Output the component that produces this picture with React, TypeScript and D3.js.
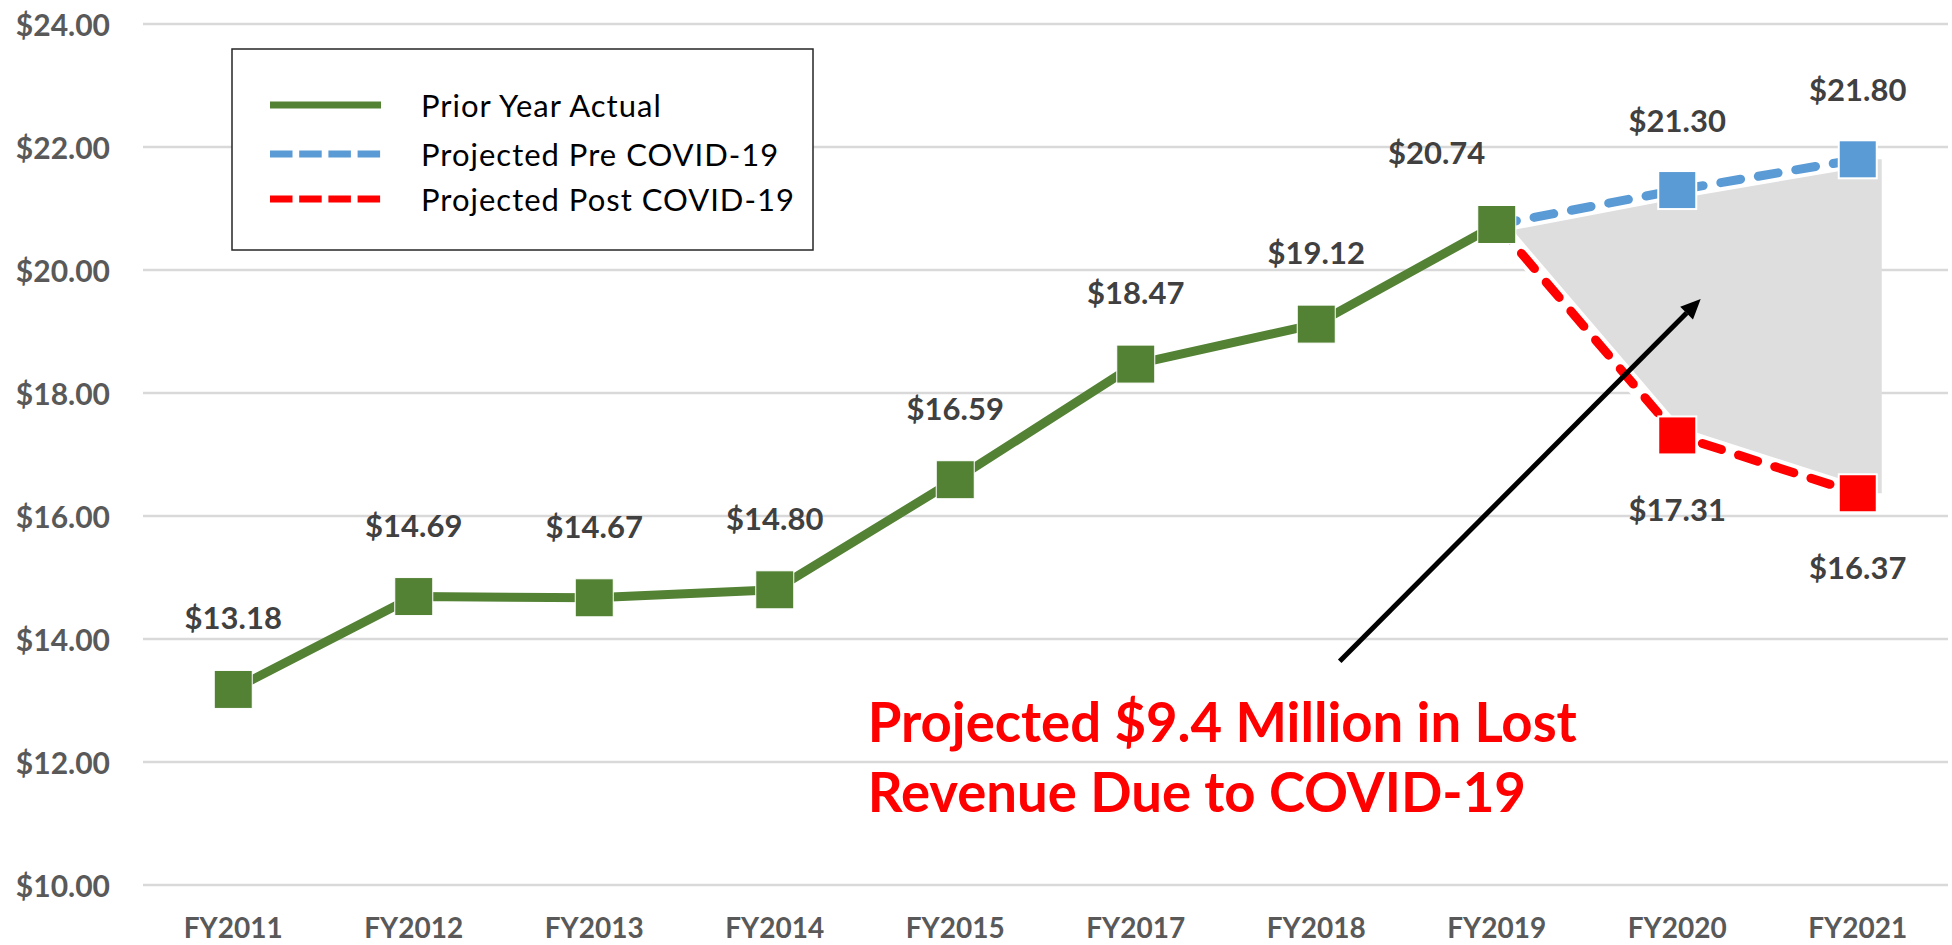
import React from "react";
import * as d3 from "d3";

const categories = ["FY2011", "FY2012", "FY2013", "FY2014", "FY2015", "FY2017", "FY2018", "FY2019", "FY2020", "FY2021"];
const actualCategories = ["FY2011", "FY2012", "FY2013", "FY2014", "FY2015", "FY2017", "FY2018", "FY2019"];
const actualValues = [13.18, 14.69, 14.67, 14.8, 16.59, 18.47, 19.12, 20.74];
const projectionCategories = ["FY2019", "FY2020", "FY2021"];
const preCovidValues = [20.74, 21.3, 21.8];
const postCovidValues = [20.74, 17.31, 16.37];
const yTicks = [10, 12, 14, 16, 18, 20, 22, 24];
const legendLabels = ["Prior Year Actual", "Projected Pre COVID-19", "Projected Post COVID-19"];
const annotationLines = ["Projected $9.4 Million in Lost", "Revenue Due to COVID-19"];

const W = 1952;
const H = 945;
const GREEN = "#548235";
const BLUE = "#5B9BD5";
const RED = "#FF0000";
const FONT = "Lato, 'Noto Sans', sans-serif";
const fmt = (v: number) => "$" + v.toFixed(2);

export default function App() {
  const x = d3.scaleBand<string>().domain(categories).range([143, 1948]);
  const bw = x.bandwidth();
  const cx = (c: string) => (x(c) as number) + bw / 2;
  const y = d3.scaleLinear().domain([10, 24]).range([885, 24]);
  const xi = d3.scaleLinear().domain([0, categories.length - 1]).range([cx(categories[0]), cx(categories[categories.length - 1])]);

  const MS = 38;
  const LW = 9;
  const line = d3.line<[number, number]>().x((d) => d[0]).y((d) => d[1]);

  const actualPts: [number, number][] = actualCategories.map((c, i) => [cx(c), y(actualValues[i])]);
  const prePts: [number, number][] = projectionCategories.map((c, i) => [cx(c), y(preCovidValues[i])]);
  const postPts: [number, number][] = projectionCategories.map((c, i) => [cx(c), y(postCovidValues[i])]);

  const areaData = projectionCategories.map((c, i) => ({ x: cx(c), hi: preCovidValues[i], lo: postCovidValues[i] }));
  const lastA = areaData[areaData.length - 1];
  areaData.push({ x: lastA.x + MS / 2 + 5, hi: lastA.hi, lo: lastA.lo });
  const area = d3
    .area<{ x: number; hi: number; lo: number }>()
    .x((d) => d.x)
    .y0((d) => y(d.lo))
    .y1((d) => y(d.hi));

  // arrow
  const ax1 = xi(6.13), ay1 = y(13.64), ax2 = xi(8.13), ay2 = y(19.53);
  const ang = Math.atan2(ay2 - ay1, ax2 - ax1);
  const hl = 20, hw = 9;
  const bx = ax2 - hl * Math.cos(ang), by = ay2 - hl * Math.sin(ang);
  const head = `M${ax2},${ay2}L${bx + hw * Math.sin(ang)},${by - hw * Math.cos(ang)}L${bx - hw * Math.sin(ang)},${by + hw * Math.cos(ang)}Z`;

  const annX = xi(3.515);
  const annY0 = y(12.33);

  const labelStyle = { fontFamily: FONT, fontWeight: 700, fontSize: 31, fill: "#404040" } as const;

  return (
    <svg width={W} height={H} style={{ position: "absolute", left: 0, top: 0, background: "#fff" }}>
      <rect x={0} y={0} width={W} height={H} fill="#fff" />
      {/* gridlines */}
      {yTicks.map((t) => (
        <line key={t} x1={143} x2={1948} y1={y(t)} y2={y(t)} stroke="#D9D9D9" strokeWidth={2.5} />
      ))}
      {yTicks.map((t) => (
        <text key={"yl" + t} x={110} y={y(t)} textAnchor="end" dominantBaseline="central" fontFamily={FONT} fontWeight={700} fontSize={30} fill="#595959">
          {fmt(t)}
        </text>
      ))}
      {categories.map((c) => (
        <text key={c} x={cx(c)} y={927} textAnchor="middle" dominantBaseline="central" fontFamily={FONT} fontWeight={700} fontSize={28} fill="#595959">
          {c}
        </text>
      ))}

      {/* lost revenue area */}
      <path d={area(areaData) as string} fill="#DEDEDE" />

      {/* projected lines */}
      <path d={line(prePts) as string} fill="none" stroke="#fff" strokeWidth={LW + 8} />
      <path d={line(postPts) as string} fill="none" stroke="#fff" strokeWidth={LW + 8} />
      <path d={line(prePts) as string} fill="none" stroke={BLUE} strokeWidth={LW} strokeDasharray="20,18" strokeLinecap="round" />
      <path d={line(postPts) as string} fill="none" stroke={RED} strokeWidth={LW} strokeDasharray="20,18" strokeLinecap="round" />
      {/* actual line */}
      <path d={line(actualPts) as string} fill="none" stroke={GREEN} strokeWidth={LW} strokeLinejoin="round" />

      {/* markers */}
      {prePts.slice(1).map((p, i) => (
        <rect key={"pm" + i} x={p[0] - MS / 2} y={p[1] - MS / 2} width={MS} height={MS} fill={BLUE} stroke="#fff" strokeWidth={2} />
      ))}
      {postPts.slice(1).map((p, i) => (
        <rect key={"qm" + i} x={p[0] - MS / 2} y={p[1] - MS / 2} width={MS} height={MS} fill={RED} stroke="#fff" strokeWidth={2} />
      ))}
      {actualPts.map((p, i) => (
        <rect key={"am" + i} x={p[0] - MS / 2} y={p[1] - MS / 2} width={MS} height={MS} fill={GREEN} stroke="#fff" strokeWidth={1} />
      ))}

      {/* data labels */}
      {actualPts.map((p, i) => (
        <text key={"al" + i} x={i === actualPts.length - 1 ? p[0] - bw / 3 : p[0]} y={p[1] - 72} textAnchor="middle" dominantBaseline="central" {...labelStyle}>
          {fmt(actualValues[i])}
        </text>
      ))}
      {prePts.slice(1).map((p, i) => (
        <text key={"pl" + i} x={p[0]} y={p[1] - 70} textAnchor="middle" dominantBaseline="central" {...labelStyle}>
          {fmt(preCovidValues[i + 1])}
        </text>
      ))}
      {postPts.slice(1).map((p, i) => (
        <text key={"ql" + i} x={p[0]} y={p[1] + 74} textAnchor="middle" dominantBaseline="central" {...labelStyle}>
          {fmt(postCovidValues[i + 1])}
        </text>
      ))}

      {/* arrow */}
      <line x1={ax1} y1={ay1} x2={bx} y2={by} stroke="#000" strokeWidth={5} />
      <path d={head} fill="#000" />

      {/* annotation */}
      {annotationLines.map((t, i) => (
        <text key={t} x={annX} y={annY0 + i * 70} fontFamily={FONT} fontWeight={700} fontSize={54.5} fill={RED}>
          {t}
        </text>
      ))}

      {/* legend */}
      <rect x={232} y={49} width={581} height={201} fill="#fff" stroke="#262626" strokeWidth={1.5} />
      {legendLabels.map((l, i) => {
        const ly = [105, 154, 199][i];
        const col = [GREEN, BLUE, RED][i];
        return (
          <g key={l}>
            <line x1={270} x2={381} y1={ly} y2={ly} stroke={col} strokeWidth={7} strokeDasharray={i === 0 ? undefined : "22.5,6.7"} />
            <text x={421} y={ly} dominantBaseline="central" fontFamily={FONT} fontSize={31} letterSpacing={1} fill="#000">
              {l}
            </text>
          </g>
        );
      })}
    </svg>
  );
}
